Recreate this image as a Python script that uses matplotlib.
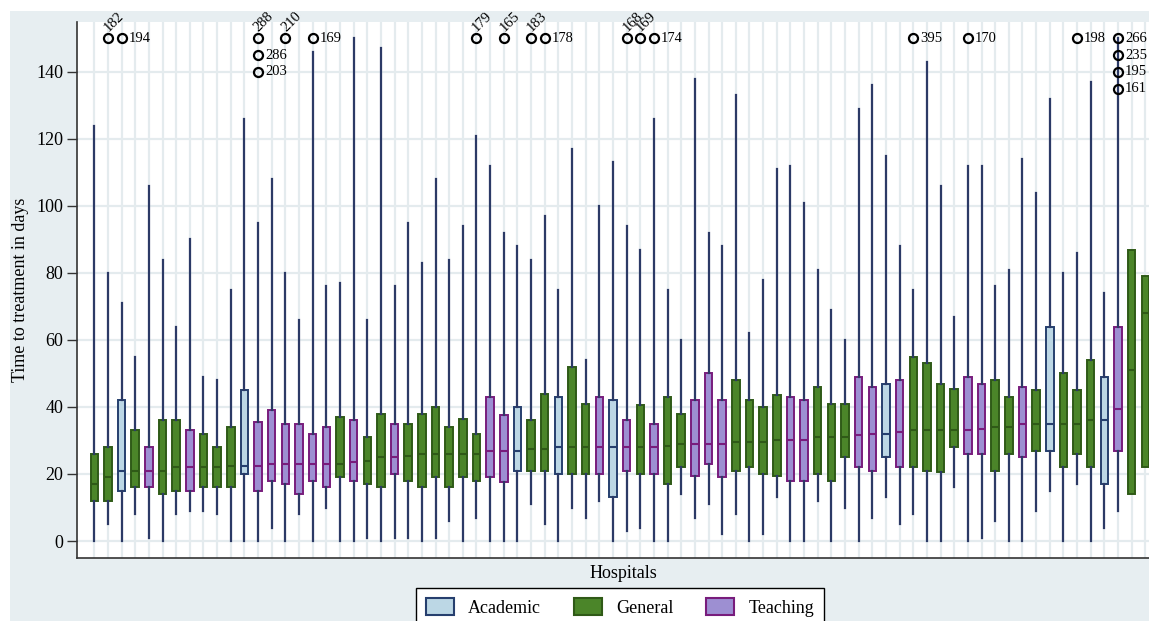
import matplotlib
matplotlib.use("Agg")
import matplotlib.pyplot as plt
from matplotlib.patches import Patch, Rectangle

# one box per hospital, sorted by median (A = academic, G = general, T = teaching)
hosp_type = list("GGAGTGGTGG" "GATTTTTTGT" "GGTGGGGGGT" "TAGGAGGTAT" "GTGGTTTGGG"
                 "GTTGGGTTAT" "GGGGTTGGTG" "AGGGATGG")

whis_lo = [0, 5, 0, 8, 1, 0, 8, 9, 9, 8,
           0, 0, 0, 4, 0, 8, 0, 10, 0, 0,
           1, 0, 1, 1, 0, 1, 6, 0, 7, 0,
           0, 0, 11, 5, 0, 10, 7, 12, 0, 3,
           4, 0, 0, 14, 7, 11, 2, 8, 0, 2,
           13, 0, 0, 12, 0, 10, 0, 7, 13, 5,
           8, 0, 0, 16, 0, 1, 6, 0, 0, 9,
           15, 0, 17, 0, 4, 9, 14, 22]
q1 = [12, 12, 15, 16, 16, 14, 15, 15, 16, 16,
      16, 20, 15, 18, 17, 14, 18, 16, 19, 18,
      17, 16, 20, 18, 16, 19, 16, 19, 18, 19,
      17.5, 21, 21, 21, 20, 20, 20, 20, 13, 21,
      20, 20, 17, 22, 19.5, 23, 19, 21, 22, 20,
      19.5, 18, 18, 20, 18, 25, 22, 21, 25, 22,
      22, 21, 20.5, 28, 26, 26, 21, 26, 25, 27,
      27, 22, 26, 22, 17, 27, 14, 22]
med = [17, 19, 21, 21, 21, 21, 22, 22, 22, 22,
       22.5, 22.5, 22.5, 23, 23, 23, 23, 23, 23, 23.5,
       24, 25, 25, 25.5, 26, 26, 26, 26, 26, 27,
       27, 27, 27.5, 27.5, 28, 28, 28, 28, 28, 28,
       28, 28, 28.5, 29, 29, 29, 29, 29.5, 29.5, 29.5,
       30, 30, 30, 31, 31, 31, 31.5, 32, 32, 32.5,
       33, 33, 33, 33, 33, 33.5, 34, 34, 35, 35,
       35, 35, 35, 36, 36, 39.5, 51, 68]
q3 = [26, 28, 42, 33, 28, 36, 36, 33, 32, 28,
      34, 45, 35.5, 39, 35, 35, 32, 34, 37, 36,
      31, 38, 35, 35, 38, 40, 34, 36.5, 32, 43,
      37.5, 40, 36, 44, 43, 52, 41, 43, 42, 36,
      40.5, 35, 43, 38, 42, 50, 42, 48, 42, 40,
      43.5, 43, 42, 46, 41, 41, 49, 46, 47, 48,
      55, 53, 47, 45.5, 49, 47, 48, 43, 46, 45,
      64, 50, 45, 54, 49, 64, 87, 79]
whis_hi = [124, 80, 71, 55, 106, 84, 64, 90, 49, 48,
           75, 126, 95, 108, 80, 66, 146, 76, 77, 150,
           66, 147, 76, 95, 83, 108, 84, 94, 121, 112,
           92, 88, 84, 97, 75, 117, 54, 100, 113, 94,
           87, 126, 75, 60, 138, 92, 88, 133, 62, 78,
           111, 112, 101, 81, 69, 60, 129, 136, 115, 88,
           75, 143, 106, 67, 112, 112, 76, 81, 114, 104,
           132, 80, 86, 137, 74, 150, 87, 79]

# outliers: box number, height drawn on the truncated axis, real value (label)
out_box = [2, 3, 13, 13, 13, 15, 17, 29, 31, 33, 34, 40, 41, 42, 61, 65, 73,
           76, 76, 76, 76]
out_pos = [150, 150, 150, 145, 140, 150, 150, 150, 150, 150, 150, 150, 150, 150,
           150, 150, 150, 150, 145, 140, 135]
out_val = [182, 194, 288, 286, 203, 210, 169, 179, 165, 183, 178, 168, 169, 174,
           395, 170, 198, 266, 235, 195, 161]
slanted = {0, 2, 5, 7, 8, 9, 11, 12}   # indexes of labels drawn at 45 degrees

fill = {"A": "#bcd7e5", "G": "#4b8529", "T": "#9d8fd2"}
edge = {"A": "#263f6e", "G": "#2f5a17", "T": "#781c7c"}
whisk = "#2c3a66"
bg = "#e7eef1"
grid = "#e4ebee"

plt.rcParams["font.family"] = ["Liberation Serif", "DejaVu Serif"]

W, H = 1149, 621
fig = plt.figure(figsize=(W / 100, H / 100), dpi=100)
fig.patch.set_facecolor("white")
fig.add_artist(Rectangle((10 / W, 0), 1, 1 - 11 / H, transform=fig.transFigure,
                         facecolor=bg, edgecolor="none", zorder=-10))

ax = fig.add_axes([77 / W, 63 / H, 1 - 77 / W, (558 - 22) / H])
ax.set_facecolor("white")

pos = list(range(1, len(med) + 1))
stats = []
for i in range(len(med)):
    stats.append({"whislo": whis_lo[i], "q1": q1[i], "med": med[i],
                  "q3": q3[i], "whishi": whis_hi[i], "fliers": []})

bp = ax.bxp(stats, positions=pos, widths=0.55, patch_artist=True,
            showcaps=False, showfliers=False,
            whiskerprops=dict(color=whisk, linewidth=1.6),
            medianprops=dict(linewidth=1.5))
for i, t in enumerate(hosp_type):
    bp["boxes"][i].set_facecolor(fill[t])
    bp["boxes"][i].set_edgecolor(edge[t])
    bp["boxes"][i].set_linewidth(1.4)
    bp["medians"][i].set_color(edge[t])

for i in range(len(out_box)):
    ax.plot(out_box[i], out_pos[i], "o", mfc="none", mec="black", ms=6.5,
            mew=1.6, clip_on=False, zorder=5)
    if i in slanted:
        ax.annotate(str(out_val[i]), (out_box[i], out_pos[i]), xytext=(2, 3),
                    textcoords="offset points", rotation=45, rotation_mode="anchor",
                    ha="left", va="bottom", fontsize=10.5, annotation_clip=False)
    else:
        ax.annotate(str(out_val[i]), (out_box[i], out_pos[i]), xytext=(5, 0),
                    textcoords="offset points", ha="left", va="center",
                    fontsize=10.5, annotation_clip=False)

ax.set_xlim(1 - 17.3 / 13.65, 78 + 3.7 / 13.65)
ax.set_ylim(-5.07, 154.9)
ax.set_xticks(pos)
ax.set_yticks(range(0, 141, 20))
ax.tick_params(axis="x", length=0, labelbottom=False)
ax.tick_params(axis="y", length=7, width=1, labelsize=13, pad=3, color="#333333")
ax.grid(True, color=grid, linewidth=1.6)
ax.set_axisbelow(True)
for s in ["top", "right"]:
    ax.spines[s].set_visible(False)
for s in ["left", "bottom"]:
    ax.spines[s].set_color("#333333")
    ax.spines[s].set_linewidth(1.2)
ax.set_ylabel("Time to treatment in days", fontsize=13, labelpad=5)

fig.text(623 / W, 1 - 573 / H, "Hospitals", ha="center", va="center", fontsize=13)

handles = [Patch(facecolor=fill[k], edgecolor=edge[k], linewidth=1.5, label=n)
           for k, n in [("A", "Academic"), ("G", "General"), ("T", "Teaching")]]
leg = fig.legend(handles=handles, loc="upper center", ncol=3,
                 bbox_to_anchor=(620 / W, 1 - 588 / H), fontsize=13,
                 frameon=True, fancybox=False, edgecolor="black", framealpha=1,
                 handlelength=1.55, handleheight=1.1, handletextpad=0.78,
                 columnspacing=1.83, borderpad=0.55, borderaxespad=0)
leg.get_frame().set_linewidth(1.0)

fig.savefig("out.png", dpi=100)
